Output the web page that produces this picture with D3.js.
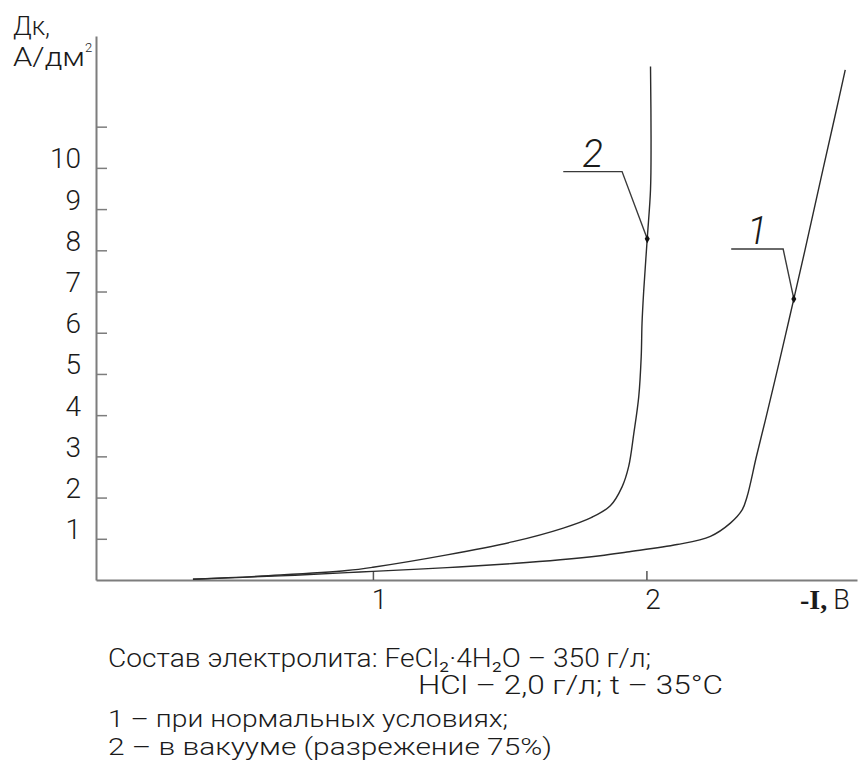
<!DOCTYPE html>
<html>
<head>
<meta charset="utf-8">
<script src="https://cdn.jsdelivr.net/npm/d3@7"></script>
<style>
  html, body { margin: 0; padding: 0; background: #fff; }
  svg { display: block; }
  text { font-family: Roboto, "DejaVu Sans Condensed", sans-serif; font-weight: 300; fill: #1a1a1a; }
</style>
</head>
<body>
<svg id="chart" width="865" height="760"></svg>
<script>
// Cathodic polarization curves: current density Dк (A/dm²) vs potential -E (V)

// Axis ticks
const xTicks = [1, 2];
const yTicks = [1, 2, 3, 4, 5, 6, 7, 8, 9, 10, 11];
const yTickLabels = [1, 2, 3, 4, 5, 6, 7, 8, 9, 10];

// Curve 1 – normal conditions
const curve1E = [0.342, 0.661, 0.906, 1.0, 1.271, 1.513, 1.685, 1.831, 1.929, 2.112, 2.234, 2.307, 2.350, 2.368, 2.402, 2.435, 2.470, 2.507, 2.539, 2.580, 2.637, 2.689, 2.727];
const curve1D = [0.02, 0.10, 0.18, 0.21, 0.30, 0.40, 0.49, 0.59, 0.68, 0.86, 1.06, 1.38, 1.70, 2.02, 2.99, 3.88, 4.85, 5.90, 6.82, 8.01, 9.71, 11.24, 12.38];

// Curve 2 – under vacuum (75% rarefaction)
const curve2E = [0.342, 0.661, 0.905, 1.0, 1.271, 1.513, 1.696, 1.800, 1.868, 1.911, 1.935, 1.954, 1.972, 1.981, 1.984, 1.990, 2.003, 2.015, 2.017, 2.015];
const curve2D = [0.02, 0.12, 0.23, 0.31, 0.61, 0.93, 1.26, 1.52, 1.80, 2.26, 2.75, 3.56, 4.45, 5.42, 6.23, 7.00, 8.28, 9.47, 10.68, 12.46];

// Callouts: label, marked point on the curve, shelf level and shelf extent
const calloutLabels = ["1", "2"];
const calloutPointE = [2.539, 2.003];
const calloutPointD = [6.82, 8.28];
const calloutShelfD = [8.03, 9.91];
const calloutShelfE0 = [2.310, 1.696];
const calloutShelfE1 = [2.500, 1.911];

const svg = d3.select("#chart");

const x = d3.scaleLinear().domain([-0.0125, 2.77]).range([96, 857]);
const y = d3.scaleLinear().domain([0, 13.2]).range([580, 36]);

const axisColor = "#7d7d7d";

// Y axis: ticks point inward, labels sit with their baseline on the tick
const gy = svg.append("g").attr("transform", `translate(${x.range()[0]},0)`)
  .call(d3.axisLeft(y).tickValues(yTicks).tickSizeInner(-11).tickSizeOuter(0).tickPadding(15)
    .tickFormat(d => yTickLabels.includes(d) ? d : ""));
gy.select(".domain").attr("stroke", axisColor).attr("stroke-width", 2);
gy.selectAll(".tick line").attr("stroke", axisColor).attr("stroke-width", 1.5);
gy.selectAll(".tick text").attr("dy", 0).attr("font-size", 28)
  .attr("font-family", "Roboto, sans-serif").attr("fill", "#1a1a1a");

// X axis
const gx = svg.append("g").attr("transform", `translate(0,${y(0)})`)
  .call(d3.axisBottom(x).tickValues(xTicks).tickSizeInner(-9).tickSizeOuter(0).tickPadding(0)
    .tickFormat(d3.format("d")));
gx.select(".domain").attr("stroke", axisColor).attr("stroke-width", 2);
gx.selectAll(".tick line").attr("stroke", "#555").attr("stroke-width", 1.5);
gx.selectAll(".tick text").attr("y", 29).attr("dy", 0).attr("dx", 6).attr("font-size", 28)
  .attr("font-family", "Roboto, sans-serif").attr("fill", "#1a1a1a");

// Axis titles
svg.append("text").attr("x", 13).attr("y", 35).attr("font-size", 25)
  .attr("textLength", 37).attr("lengthAdjust", "spacingAndGlyphs").text("Дк,");
const yTitle = svg.append("text").attr("x", 13).attr("y", 66).attr("font-size", 25);
yTitle.append("tspan").attr("textLength", 72).attr("lengthAdjust", "spacingAndGlyphs").text("А/дм");
yTitle.append("tspan").attr("font-size", 13).attr("dy", -14).text("2");

const xTitle = svg.append("text").attr("x", 800).attr("y", 609).attr("font-size", 28);
xTitle.append("tspan").attr("font-family", "'Liberation Serif', serif").attr("font-weight", 700).text("-I,");
xTitle.append("tspan").attr("dx", 6).attr("font-size", 27).text("В");

// Curves
const line = d3.line().x(d => x(d[0])).y(d => y(d[1])).curve(d3.curveCatmullRom.alpha(0.5));
const series = [d3.zip(curve1E, curve1D), d3.zip(curve2E, curve2D)];
svg.append("g").selectAll("path").data(series).join("path")
  .attr("d", line).attr("fill", "none").attr("stroke", "#2b2b2b").attr("stroke-width", 1.4);

// Callouts with leader lines and diamond markers
const callouts = calloutLabels.map((lab, i) => ({
  lab, pe: calloutPointE[i], pd: calloutPointD[i],
  sd: calloutShelfD[i], e0: calloutShelfE0[i], e1: calloutShelfE1[i]
}));
const gc = svg.append("g");
gc.selectAll("polyline").data(callouts).join("polyline")
  .attr("points", d => [[x(d.e0), y(d.sd)], [x(d.e1), y(d.sd)], [x(d.pe), y(d.pd)]].map(p => p.join(",")).join(" "))
  .attr("fill", "none").attr("stroke", "#3a3a3a").attr("stroke-width", 1.4);
gc.selectAll("path.marker").data(callouts).join("path").attr("class", "marker")
  .attr("d", d3.symbol(d3.symbolDiamond, 22))
  .attr("transform", d => `translate(${x(d.pe)},${y(d.pd)})`).attr("fill", "#111");
gc.selectAll("text").data(callouts).join("text")
  .attr("x", d => x((d.e0 + d.e1) / 2)).attr("y", d => y(d.sd) - 5)
  .attr("text-anchor", "middle").attr("font-size", 38).attr("font-style", "italic")
  .text(d => d.lab);

// Electrolyte composition and legend
const notes = [
  { t: "Состав электролита: FeCl₂·4H₂O – 350 г/л;", x: 108, y: 667, w: 543, s: 26 },
  { t: "HCl – 2,0 г/л; t – 35°C", x: 418, y: 694, w: 305, s: 26 },
  { t: "1 – при нормальных условиях;", x: 108, y: 727, w: 400, s: 24 },
  { t: "2 – в вакууме (разрежение 75%)", x: 108, y: 755, w: 444, s: 24 }
];
svg.append("g").selectAll("text").data(notes).join("text")
  .attr("x", d => d.x).attr("y", d => d.y).attr("font-size", d => d.s)
  .attr("textLength", d => d.w).attr("lengthAdjust", "spacingAndGlyphs")
  .text(d => d.t);
</script>
</body>
</html>
